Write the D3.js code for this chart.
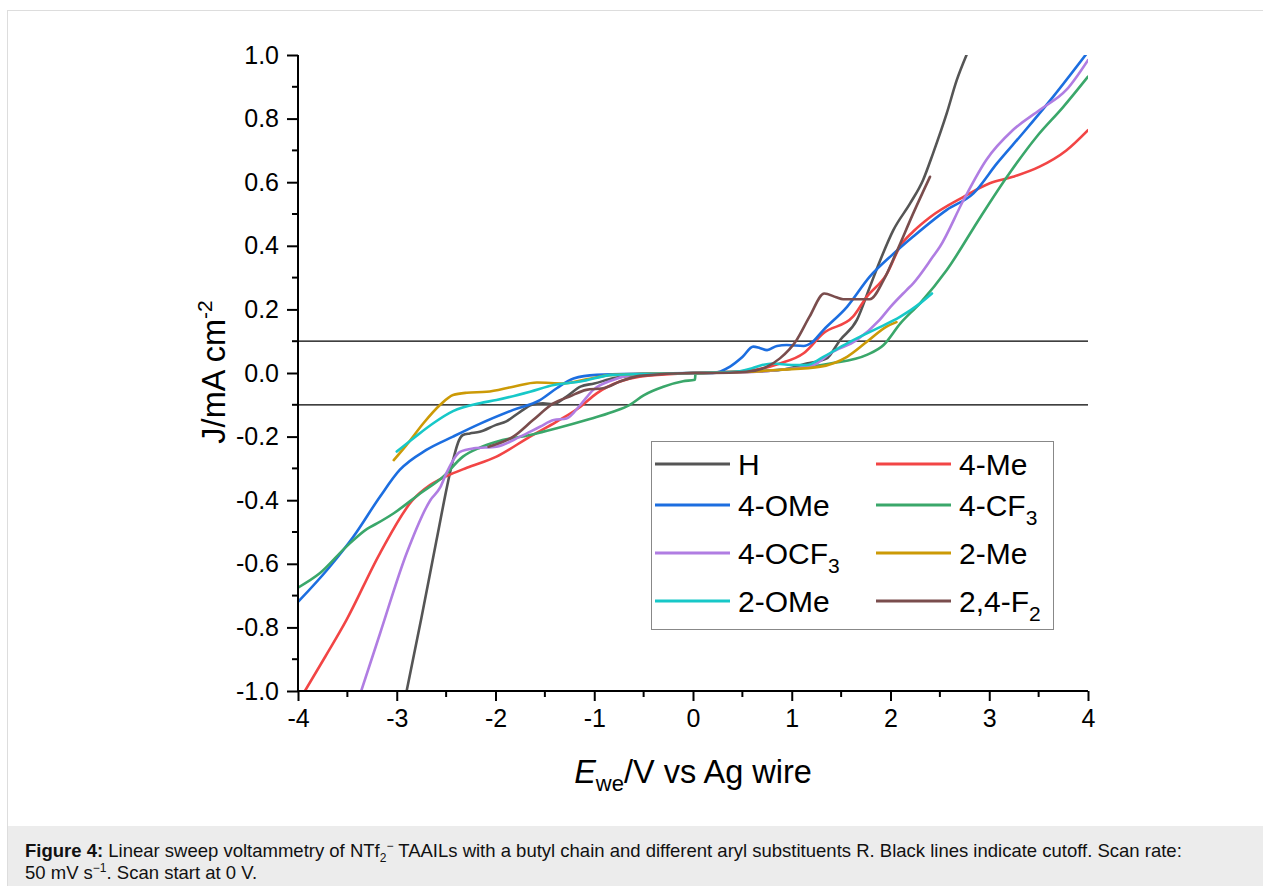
<!DOCTYPE html>
<html>
<head>
<meta charset="utf-8">
<script src="https://cdn.jsdelivr.net/npm/d3@7"></script>
<style>
  body { margin: 0; background: #fff; }
  svg { display: block; font-family: Arial, "Liberation Sans", sans-serif; }
</style>
</head>
<body>
<svg id="chart" width="1263" height="886"></svg>
<script>
// series names, colors and [E / V, J / mA cm-2] readings
const names = ["H", "4-Me", "4-OMe", "4-CF3", "4-OCF3", "2-Me", "2-OMe", "2,4-F2"];
const colors = ["#555555", "#f24545", "#1c6ee0", "#3aa76a", "#b07de2", "#cc9a06", "#17c8c8", "#7a4d4d"];

const seriesH = [[-2.9,-1.0],[-2.75,-0.77],[-2.6,-0.53],[-2.43,-0.274],[-2.37,-0.212],[-2.33,-0.195],[-2.26,-0.19],[-2.16,-0.185],[-2.0,-0.164],[-1.89,-0.152],[-1.75,-0.122],[-1.63,-0.10],[-1.52,-0.095],[-1.42,-0.098],[-1.28,-0.074],[-1.14,-0.043],[-1.0,-0.033],[-0.8,-0.016],[-0.5,-0.006],[0,0],[0.5,0.003],[0.9,0.01],[1.15,0.03],[1.35,0.045],[1.49,0.104],[1.66,0.167],[1.79,0.27],[1.89,0.35],[2.03,0.45],[2.2,0.534],[2.33,0.607],[2.43,0.69],[2.57,0.817],[2.67,0.92],[2.77,1.0]];
const seriesMe4 = [[-3.93,-1.0],[-3.72,-0.89],[-3.51,-0.777],[-3.17,-0.567],[-2.84,-0.40],[-2.66,-0.352],[-2.45,-0.318],[-2.29,-0.298],[-1.99,-0.263],[-1.65,-0.20],[-1.38,-0.153],[-1.14,-0.106],[-0.975,-0.064],[-0.74,-0.027],[-0.54,-0.012],[0,0],[0.5,0.005],[0.88,0.03],[1.12,0.062],[1.32,0.125],[1.62,0.177],[1.76,0.24],[1.96,0.31],[2.1,0.40],[2.23,0.445],[2.4,0.49],[2.74,0.554],[3.0,0.596],[3.24,0.617],[3.51,0.649],[3.78,0.70],[4.0,0.764]];
const seriesOMe4 = [[-4.0,-0.72],[-3.68,-0.61],[-3.44,-0.515],[-3.17,-0.389],[-2.97,-0.305],[-2.7,-0.242],[-2.43,-0.20],[-2.16,-0.16],[-1.82,-0.116],[-1.55,-0.085],[-1.38,-0.048],[-1.21,-0.017],[-0.975,-0.006],[-0.5,-0.002],[0,0],[0.2,0.0],[0.375,0.02],[0.5,0.05],[0.61,0.083],[0.68,0.078],[0.75,0.072],[0.85,0.085],[0.95,0.088],[1.12,0.085],[1.2,0.095],[1.32,0.135],[1.56,0.208],[1.79,0.303],[2.03,0.375],[2.23,0.429],[2.57,0.513],[2.84,0.565],[3.08,0.66],[3.34,0.754],[3.65,0.87],[4.0,1.01]];
const seriesCF34 = [[-4.0,-0.675],[-3.78,-0.63],[-3.51,-0.546],[-3.3,-0.49],[-3.2,-0.473],[-3.03,-0.441],[-2.76,-0.378],[-2.53,-0.326],[-2.33,-0.263],[-2.16,-0.235],[-1.99,-0.216],[-1.65,-0.195],[-1.38,-0.174],[-1.08,-0.148],[-0.81,-0.122],[-0.64,-0.10],[-0.5,-0.07],[-0.3,-0.043],[-0.1,-0.026],[0.02,-0.021],[0.025,-0.002],[0.3,0.002],[0.88,0.01],[1.39,0.03],[1.76,0.057],[1.93,0.088],[2.1,0.156],[2.3,0.22],[2.57,0.324],[2.91,0.49],[3.18,0.617],[3.48,0.743],[3.75,0.837],[4.0,0.932]];
const seriesOCF34 = [[-3.36,-1.0],[-3.17,-0.82],[-2.9,-0.567],[-2.66,-0.40],[-2.56,-0.36],[-2.49,-0.31],[-2.36,-0.248],[-2.22,-0.237],[-1.99,-0.232],[-1.75,-0.20],[-1.55,-0.169],[-1.41,-0.148],[-1.28,-0.143],[-1.14,-0.10],[-1.01,-0.053],[-0.81,-0.022],[-0.6,-0.006],[0,0],[0.5,0.002],[0.88,0.01],[1.22,0.025],[1.39,0.062],[1.66,0.104],[1.89,0.167],[2.0,0.208],[2.16,0.26],[2.23,0.282],[2.43,0.366],[2.5,0.397],[2.74,0.544],[2.97,0.67],[3.24,0.764],[3.51,0.827],[3.78,0.89],[4.0,0.984]];
const seriesMe2 = [[-3.03,-0.274],[-2.9,-0.226],[-2.73,-0.158],[-2.56,-0.10],[-2.43,-0.069],[-2.29,-0.062],[-2.09,-0.059],[-1.82,-0.043],[-1.58,-0.03],[-1.31,-0.033],[-1.08,-0.02],[-0.81,-0.006],[0,0],[0.5,0.003],[0.88,0.01],[1.29,0.02],[1.56,0.051],[1.76,0.098],[1.96,0.146],[2.06,0.16]];
const seriesOMe2 = [[-3.0,-0.247],[-2.83,-0.205],[-2.63,-0.158],[-2.43,-0.12],[-2.16,-0.095],[-1.99,-0.085],[-1.65,-0.059],[-1.41,-0.038],[-1.14,-0.027],[-0.81,-0.006],[0,0],[0.4,0.003],[0.6,0.015],[0.7,0.025],[0.81,0.03],[1.0,0.025],[1.15,0.025],[1.32,0.051],[1.56,0.093],[1.83,0.135],[2.1,0.177],[2.3,0.219],[2.42,0.25]];
const seriesF24 = [[-2.07,-0.232],[-1.82,-0.20],[-1.62,-0.148],[-1.41,-0.095],[-1.25,-0.074],[-1.08,-0.053],[-0.91,-0.048],[-0.74,-0.027],[-0.54,-0.009],[0,0],[0.2,0.0],[0.54,0.004],[0.75,0.02],[0.88,0.046],[1.05,0.104],[1.18,0.177],[1.33,0.25],[1.45,0.238],[1.52,0.232],[1.79,0.232],[1.93,0.292],[2.06,0.38],[2.23,0.502],[2.4,0.617]];

const allSeries = [seriesH, seriesMe4, seriesOMe4, seriesCF34, seriesOCF34, seriesMe2, seriesOMe2, seriesF24];

const cutoffs = [0.1, -0.1];
const xTicks = [-4, -3, -2, -1, 0, 1, 2, 3, 4];
const yTicks = [-1.0, -0.8, -0.6, -0.4, -0.2, 0.0, 0.2, 0.4, 0.6, 0.8, 1.0];

// legend labels: [main, subscript]
const legendLabels = [["H", ""], ["4-Me", ""], ["4-OMe", ""], ["4-CF", "3"], ["4-OCF", "3"], ["2-Me", ""], ["2-OMe", ""], ["2,4-F", "2"]];

const svg = d3.select("#chart");

// figure frame and caption box
svg.append("rect").attr("x", 7.5).attr("y", 10.5).attr("width", 1270).attr("height", 900)
    .attr("fill", "none").attr("stroke", "#dddddd");
svg.append("rect").attr("x", 8).attr("y", 826).attr("width", 1260).attr("height", 60).attr("fill", "#ececec");

const x = d3.scaleLinear().domain([-4, 4]).range([298, 1088]);
const y = d3.scaleLinear().domain([-1, 1]).range([691, 55]);

svg.append("defs").append("clipPath").attr("id", "plotclip")
    .append("rect").attr("x", x(-4)).attr("y", y(1)).attr("width", x(4) - x(-4)).attr("height", y(-1) - y(1));

// cutoff lines
svg.selectAll("line.cut").data(cutoffs).enter().append("line")
    .attr("class", "cut")
    .attr("x1", x(-4)).attr("x2", x(4))
    .attr("y1", d => y(d)).attr("y2", d => y(d))
    .attr("stroke", "#000").attr("stroke-width", 1.2);

const line = d3.line().x(d => x(d[0])).y(d => y(d[1])).curve(d3.curveMonotoneX);

svg.append("g").attr("clip-path", "url(#plotclip)")
    .selectAll("path").data(allSeries).enter().append("path")
    .attr("d", line)
    .attr("fill", "none")
    .attr("stroke", (d, i) => colors[i])
    .attr("stroke-width", 2.6)
    .attr("stroke-linejoin", "round")
    .attr("stroke-linecap", "round");

// axes
const fmtY = d => d.toFixed(1).replace("−", "-");
const yAxis = d3.axisLeft(y).tickValues(yTicks).tickFormat(fmtY).tickSize(11).tickPadding(8);
const xAxis = d3.axisBottom(x).tickValues(xTicks).tickFormat(d => String(d)).tickSize(10).tickPadding(8);

const gy = svg.append("g").attr("transform", `translate(${x(-4)},0)`).call(yAxis);
const gx = svg.append("g").attr("transform", `translate(0,${y(-1)})`).call(xAxis);

[gx, gy].forEach(g => {
    g.select(".domain").attr("stroke", "#000").attr("stroke-width", 2);
    g.selectAll(".tick line").attr("stroke", "#000").attr("stroke-width", 2);
    g.selectAll(".tick text").attr("fill", "#000").attr("font-size", 25)
        .attr("font-family", "Arial, 'Liberation Sans', sans-serif");
});
gx.select(".domain").attr("d", `M${x(-4)},0H${x(4)}`);
gy.select(".domain").attr("d", `M0,${y(-1)}V${y(1)}`);

// minor ticks
const yMinor = d3.range(-0.9, 1.0, 0.2);
svg.append("g").selectAll("line").data(yMinor).enter().append("line")
    .attr("x1", x(-4) - 6).attr("x2", x(-4))
    .attr("y1", d => y(d)).attr("y2", d => y(d))
    .attr("stroke", "#000").attr("stroke-width", 2);
const xMinor = d3.range(-3.5, 4, 1);
svg.append("g").selectAll("line").data(xMinor).enter().append("line")
    .attr("y1", y(-1)).attr("y2", y(-1) + 6)
    .attr("x1", d => x(d)).attr("x2", d => x(d))
    .attr("stroke", "#000").attr("stroke-width", 2);

// axis titles
const yTitle = svg.append("text")
    .attr("transform", `translate(225,372) rotate(-90)`)
    .attr("text-anchor", "middle").attr("font-size", 32.5).attr("fill", "#000");
yTitle.append("tspan").text("J/mA cm");
yTitle.append("tspan").attr("font-size", 21).attr("dy", -13).text("-2");

const xTitle = svg.append("text")
    .attr("x", 693).attr("y", 783)
    .attr("text-anchor", "middle").attr("font-size", 32.5).attr("fill", "#000");
xTitle.append("tspan").attr("font-style", "italic").text("E");
xTitle.append("tspan").attr("font-size", 22).attr("dy", 8).text("we");
xTitle.append("tspan").attr("dy", -8).text("/V vs Ag wire");

// legend
const legend = svg.append("g");
legend.append("rect").attr("x", 651.5).attr("y", 441.5).attr("width", 402).attr("height", 188)
    .attr("fill", "#fff").attr("stroke", "#888").attr("stroke-width", 1);
const rowY = [464, 505, 553, 601];
const colX = [655, 876];
legendLabels.forEach((lab, i) => {
    const cx = colX[i % 2];
    const cy = rowY[Math.floor(i / 2)];
    legend.append("line").attr("x1", cx).attr("x2", cx + 75).attr("y1", cy).attr("y2", cy)
        .attr("stroke", colors[i]).attr("stroke-width", 3);
    const t = legend.append("text").attr("x", cx + 83).attr("y", cy + 11)
        .attr("font-size", 30).attr("fill", "#000");
    t.append("tspan").text(lab[0]);
    if (lab[1]) t.append("tspan").attr("font-size", 21).attr("dy", 9).text(lab[1]);
});

// caption
const cap1 = svg.append("text").attr("x", 25).attr("y", 857).attr("font-size", 18.5).attr("fill", "#111");
cap1.append("tspan").attr("font-weight", "bold").text("Figure 4:");
cap1.append("tspan").text(" Linear sweep voltammetry of NTf");
cap1.append("tspan").attr("font-size", 12).attr("dy", 5).text("2");
cap1.append("tspan").attr("font-size", 12).attr("dy", -12).text("\u2212");
cap1.append("tspan").attr("dy", 7).text(" TAAILs with a butyl chain and different aryl substituents R. Black lines indicate cutoff. Scan rate:");
const cap2 = svg.append("text").attr("x", 25).attr("y", 879).attr("font-size", 18.5).attr("fill", "#111");
cap2.append("tspan").text("50 mV s");
cap2.append("tspan").attr("font-size", 12).attr("dy", -7).text("\u22121");
cap2.append("tspan").attr("dy", 7).text(". Scan start at 0 V.");
</script>
</body>
</html>
